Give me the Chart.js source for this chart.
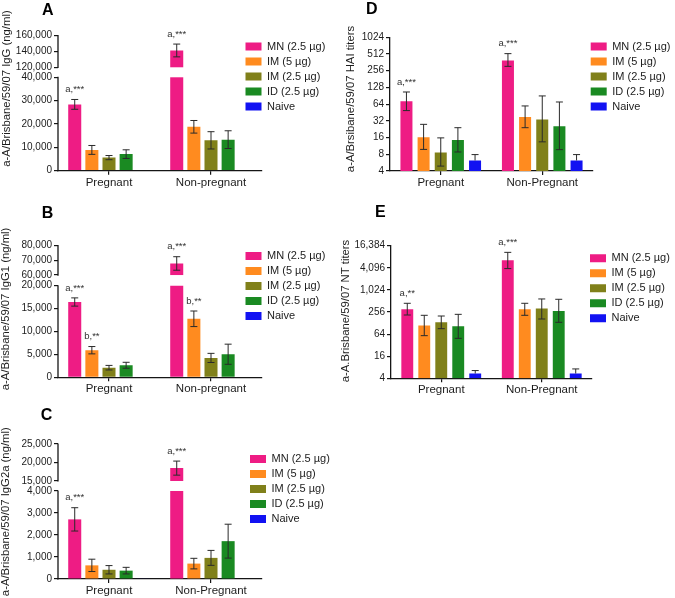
<!DOCTYPE html>
<html>
<head>
<meta charset="utf-8">
<script src="https://cdn.jsdelivr.net/npm/chart.js@4.4.1/dist/chart.umd.min.js"></script>
<style>
html, body { margin: 0; padding: 0; background: #fff; }
#wrap { position: relative; width: 675px; height: 598px; overflow: hidden; background: #fff; }
canvas { position: absolute; }
</style>
</head>
<body>
<div id="wrap">
  <canvas id="cA" width="340" height="195" style="left:0px;top:0px;width:340px;height:195px"></canvas>
  <canvas id="cB" width="340" height="205" style="left:0px;top:195px;width:340px;height:205px"></canvas>
  <canvas id="cC" width="340" height="203" style="left:0px;top:395px;width:340px;height:203px"></canvas>
  <canvas id="cD" width="335" height="195" style="left:340px;top:0px;width:335px;height:195px"></canvas>
  <canvas id="cE" width="335" height="205" style="left:340px;top:195px;width:335px;height:205px"></canvas>
</div>
<script>
// ---------------- DATA ----------------
const SERIES = ['MN (2.5 µg)', 'IM (5 µg)', 'IM (2.5 µg)', 'ID (2.5 µg)', 'Naive'];

// Panel A: IgG (ng/ml), mean ± error
const A_CATEGORIES = ['Pregnant', 'Non-pregnant'];
const A_PREGNANT = [28400, 8900, 5600, 7100, 0];
const A_NONPREGNANT = [141300, 18800, 13000, 13300, 300];
const A_PREGNANT_ERR = [2100, 1900, 900, 1850, 0];
const A_NONPREGNANT_ERR = [8100, 2700, 3700, 3800, 0];
const A_PREGNANT_NOTES = ['a,***', '', '', '', ''];
const A_NONPREGNANT_NOTES = ['a,***', '', '', '', ''];
const A_TICKS = [0, 10000, 20000, 30000, 40000, 120000, 140000, 160000];
const A_TICK_LABELS = ['0', '10,000', '20,000', '30,000', '40,000', '120,000', '140,000', '160,000'];
const A_BREAK = [40000, 120000];

// Panel B: IgG1 (ng/ml)
const B_CATEGORIES = ['Pregnant', 'Non-pregnant'];
const B_PREGNANT = [16450, 5920, 2100, 2630, 0];
const B_NONPREGNANT = [67900, 12780, 4230, 5040, 0];
const B_PREGNANT_ERR = [900, 800, 500, 650, 0];
const B_NONPREGNANT_ERR = [4600, 1700, 1000, 2200, 0];
const B_PREGNANT_NOTES = ['a,***', 'b,**', '', '', ''];
const B_NONPREGNANT_NOTES = ['a,***', 'b,**', '', '', ''];
const B_TICKS = [0, 5000, 10000, 15000, 20000, 60000, 70000, 80000];
const B_TICK_LABELS = ['0', '5,000', '10,000', '15,000', '20,000', '60,000', '70,000', '80,000'];
const B_BREAK = [20000, 60000];

// Panel C: IgG2a (ng/ml)
const C_CATEGORIES = ['Pregnant', 'Non-Pregnant'];
const C_PREGNANT = [2710, 620, 420, 380, 30];
const C_NONPREGNANT = [18480, 700, 960, 1720, 0];
const C_PREGNANT_ERR = [530, 280, 190, 150, 0];
const C_NONPREGNANT_ERR = [1900, 240, 340, 770, 0];
const C_PREGNANT_NOTES = ['a,***', '', '', '', ''];
const C_NONPREGNANT_NOTES = ['a,***', '', '', '', ''];
const C_TICKS = [0, 1000, 2000, 3000, 4000, 15000, 20000, 25000];
const C_TICK_LABELS = ['0', '1,000', '2,000', '3,000', '4,000', '15,000', '20,000', '25,000'];
const C_BREAK = [4000, 15000];

// Panel D: HAI titers (log2 axis), bar value with lower / upper whisker ends
const D_CATEGORIES = ['Pregnant', 'Non-Pregnant'];
const D_PREGNANT = [72, 16.2, 8.65, 14.5, 6.2];
const D_PREGNANT_LO = [49, 9.8, 4.9, 8.8, 6.2];
const D_PREGNANT_HI = [106, 27.7, 15.8, 24.1, 7.9];
const D_NONPREGNANT = [393, 37.6, 34, 25.5, 6.2];
const D_NONPREGNANT_LO = [307, 24.1, 13.4, 9.7, 6.2];
const D_NONPREGNANT_HI = [520, 59.4, 90, 70, 7.9];
const D_PREGNANT_NOTES = ['a,***', '', '', '', ''];
const D_NONPREGNANT_NOTES = ['a,***', '', '', '', ''];
const D_TICKS = [4, 8, 16, 32, 64, 128, 256, 512, 1024];
const D_TICK_LABELS = ['4', '8', '16', '32', '64', '128', '256', '512', '1024'];

// Panel E: NT titers (log4 axis)
const E_CATEGORIES = ['Pregnant', 'Non-Pregnant'];
const E_PREGNANT = [302, 109, 134, 104, 5.4];
const E_PREGNANT_LO = [212, 58, 90, 49, 5.4];
const E_PREGNANT_HI = [442, 208, 199, 221, 6.5];
const E_NONPREGNANT = [6560, 302, 317, 272, 5.4];
const E_NONPREGNANT_LO = [3900, 208, 165, 134, 5.4];
const E_NONPREGNANT_HI = [10800, 442, 580, 568, 7.2];
const E_PREGNANT_NOTES = ['a,**', '', '', '', ''];
const E_NONPREGNANT_NOTES = ['a,***', '', '', '', ''];
const E_TICKS = [4, 16, 64, 256, 1024, 4096, 16384];
const E_TICK_LABELS = ['4', '16', '64', '256', '1,024', '4,096', '16,384'];

// ---------------- STYLE ----------------
const COLORS = ['#EE1C84', '#FF8B1F', '#80801A', '#1A8A22', '#1212F2'];
const TXT = '#1c1c1c';
const AXIS = '#151515';
const FONT = "'Liberation Sans', Arial, Helvetica, sans-serif";
Chart.defaults.font.family = FONT;

const plus = (v, e) => v.map((x, i) => x + e[i]);
const minus = (v, e) => v.map((x, i) => x - e[i]);

const PANELS = {
  cA: { letter: 'A', yTitle: 'a-A/Brisbane/59/07 IgG (ng/ml)', type: 'brokenLinear', categories: A_CATEGORIES,
        preg: A_PREGNANT, non: A_NONPREGNANT,
        pregLo: minus(A_PREGNANT, A_PREGNANT_ERR), pregHi: plus(A_PREGNANT, A_PREGNANT_ERR),
        nonLo: minus(A_NONPREGNANT, A_NONPREGNANT_ERR), nonHi: plus(A_NONPREGNANT, A_NONPREGNANT_ERR),
        pregNotes: A_PREGNANT_NOTES, nonNotes: A_NONPREGNANT_NOTES,
        ticks: A_TICKS, tickLabels: A_TICK_LABELS, brk: A_BREAK },
  cB: { letter: 'B', yTitle: 'a-A/Brisbane/59/07 IgG1 (ng/ml)', type: 'brokenLinear', categories: B_CATEGORIES,
        preg: B_PREGNANT, non: B_NONPREGNANT,
        pregLo: minus(B_PREGNANT, B_PREGNANT_ERR), pregHi: plus(B_PREGNANT, B_PREGNANT_ERR),
        nonLo: minus(B_NONPREGNANT, B_NONPREGNANT_ERR), nonHi: plus(B_NONPREGNANT, B_NONPREGNANT_ERR),
        pregNotes: B_PREGNANT_NOTES, nonNotes: B_NONPREGNANT_NOTES,
        ticks: B_TICKS, tickLabels: B_TICK_LABELS, brk: B_BREAK },
  cC: { letter: 'C', yTitle: 'a-A/Brisbane/59/07 IgG2a (ng/ml)', type: 'brokenLinear', categories: C_CATEGORIES,
        preg: C_PREGNANT, non: C_NONPREGNANT,
        pregLo: minus(C_PREGNANT, C_PREGNANT_ERR), pregHi: plus(C_PREGNANT, C_PREGNANT_ERR),
        nonLo: minus(C_NONPREGNANT, C_NONPREGNANT_ERR), nonHi: plus(C_NONPREGNANT, C_NONPREGNANT_ERR),
        pregNotes: C_PREGNANT_NOTES, nonNotes: C_NONPREGNANT_NOTES,
        ticks: C_TICKS, tickLabels: C_TICK_LABELS, brk: C_BREAK },
  cD: { letter: 'D', yTitle: 'a-A/Brsibane/59/07 HAI titers', type: 'logarithmic', categories: D_CATEGORIES,
        preg: D_PREGNANT, non: D_NONPREGNANT,
        pregLo: D_PREGNANT_LO, pregHi: D_PREGNANT_HI, nonLo: D_NONPREGNANT_LO, nonHi: D_NONPREGNANT_HI,
        pregNotes: D_PREGNANT_NOTES, nonNotes: D_NONPREGNANT_NOTES,
        ticks: D_TICKS, tickLabels: D_TICK_LABELS },
  cE: { letter: 'E', yTitle: 'a-A.Brisbane/59/07 NT titers', type: 'logarithmic', categories: E_CATEGORIES,
        preg: E_PREGNANT, non: E_NONPREGNANT,
        pregLo: E_PREGNANT_LO, pregHi: E_PREGNANT_HI, nonLo: E_NONPREGNANT_LO, nonHi: E_NONPREGNANT_HI,
        pregNotes: E_PREGNANT_NOTES, nonNotes: E_NONPREGNANT_NOTES,
        ticks: E_TICKS, tickLabels: E_TICK_LABELS }
};

// layout (positions / sizes), local canvas pixels
const LAYOUT = {
  cA: { padTop: 16.5, padRight: 77, yW: 58, xH: 24.3, legX: 241.5, legY: 37, letX: 42, letY: 1.2, ytX: 6.5, ytY: 88.5, upFrac: 0.234, gap: 10, catPct: 0.84, barPct: 0.76 },
  cB: { padTop: 31.5, padRight: 77, yW: 58, xH: 22.7, legX: 241.5, legY: 51.5, letX: 41.7, letY: 9.4, ytX: 6, ytY: 114, upFrac: 0.223, gap: 10.7, catPct: 0.84, barPct: 0.76 },
  cC: { padTop: 29.8, padRight: 77, yW: 58, xH: 19, legX: 246, legY: 54.5, letX: 40.7, letY: 11.4, ytX: 6, ytY: 116.7, upFrac: 0.274, gap: 10, catPct: 0.84, barPct: 0.76 },
  cD: { padTop: 18.1, padRight: 81, yW: 50, xH: 24, legX: 246.7, legY: 37, letX: 26, letY: 0, ytX: 11, ytY: 99, catPct: 0.845, barPct: 0.7 },
  cE: { padTop: 31.5, padRight: 82, yW: 51, xH: 21.7, legX: 246, legY: 53.8, letX: 35, letY: 7.9, ytX: 6, ytY: 116, catPct: 0.845, barPct: 0.7 }
};

// ---------------- Broken linear scale ----------------
class BrokenLinearScale extends Chart.LinearScale {
  _brk() {
    const id = this.chart.canvas.id, p = PANELS[id], L = LAYOUT[id];
    return { lo: p.brk[0], u0: p.brk[1], u1: p.ticks[p.ticks.length - 1], up: L.upFrac, gap: L.gap };
  }
  determineDataLimits() { const b = this._brk(); this.min = 0; this.max = b.u1; }
  buildTicks() { return PANELS[this.chart.canvas.id].ticks.map(v => ({ value: v })); }
  getPixelForValue(v) {
    const b = this._brk();
    const H = this.bottom - this.top, upH = H * b.up, loH = H - upH - b.gap;
    if (v === null || v === undefined || isNaN(v)) return NaN;
    if (v <= b.lo) return this.bottom - (v / b.lo) * loH;
    if (v >= b.u0) return this.top + (b.u1 - v) / (b.u1 - b.u0) * upH;
    return this.bottom - loH - (v - b.lo) / (b.u0 - b.lo) * b.gap;
  }
  getValueForPixel(px) {
    const b = this._brk();
    const H = this.bottom - this.top, upH = H * b.up, loH = H - upH - b.gap;
    const gTop = this.top + upH, gBot = this.bottom - loH;
    if (px >= gBot) return (this.bottom - px) / loH * b.lo;
    if (px <= gTop) return b.u1 - (px - this.top) / upH * (b.u1 - b.u0);
    return b.lo + (gBot - px) / b.gap * (b.u0 - b.lo);
  }
}
BrokenLinearScale.id = 'brokenLinear';
BrokenLinearScale.defaults = {};
Chart.register(BrokenLinearScale);

// ---------------- decoration plugin ----------------
function line(ctx, x1, y1, x2, y2) { ctx.beginPath(); ctx.moveTo(x1, y1); ctx.lineTo(x2, y2); ctx.stroke(); }

const decor = {
  id: 'decor',
  afterLayout(chart) {
    const L = LAYOUT[chart.canvas.id];
    const lg = chart.legend;
    if (lg) { lg.left = L.legX; lg.right = L.legX + 120; lg.top = L.legY; lg.bottom = L.legY + 140; lg.width = 120; lg.height = 140; }
    const t = chart.titleBlock;
    if (t) { t.left = L.letX; t.right = L.letX + 40; t.top = L.letY; t.bottom = L.letY + 20; t.width = 40; t.height = 20; }
  },
  afterDatasetsDraw(chart) {
    const id = chart.canvas.id, p = PANELS[id];
    const ctx = chart.ctx, ca = chart.chartArea, y = chart.scales.y;
    ctx.save();
    if (p.brk) {
      const u1 = p.ticks[p.ticks.length - 1];
      const g1 = y.getPixelForValue(p.brk[1]), g2 = y.getPixelForValue(p.brk[0]);
      // cut the gap out of every bar that crosses the axis break
      ctx.fillStyle = '#ffffff';
      chart.data.datasets.forEach((ds, di) => {
        chart.getDatasetMeta(di).data.forEach((bar, j) => {
          if (ds.data[j] > p.brk[0]) ctx.fillRect(bar.x - bar.width / 2 - 1, g1, bar.width + 2, g2 - g1);
        });
      });
      ctx.strokeStyle = AXIS; ctx.lineWidth = 1.3;
      line(ctx, ca.left, y.getPixelForValue(u1) - 0.6, ca.left, g1 + 0.6);
      line(ctx, ca.left, g2 - 0.6, ca.left, ca.bottom + 0.6);
    }
    // error bars and significance notes
    ctx.strokeStyle = '#2a2a2a'; ctx.lineWidth = 1;
    chart.data.datasets.forEach((ds, di) => {
      const meta = chart.getDatasetMeta(di);
      meta.data.forEach((bar, j) => {
        const lo = ds.lo[j], hi = ds.hi[j], v = ds.data[j];
        const x = bar.x;
        let topPx = y.getPixelForValue(v);
        if (hi > v) {
          const yh = y.getPixelForValue(hi);
          const yl = y.getPixelForValue(Math.max(lo, y.min));
          line(ctx, x, yh, x, yl);
          line(ctx, x - 3.5, yh, x + 3.5, yh);
          if (lo < v && lo >= y.min) line(ctx, x - 3.5, yl, x + 3.5, yl);
          topPx = yh;
        }
        const note = ds.notes[j];
        if (note) {
          ctx.fillStyle = '#333';
          ctx.font = '9.5px ' + FONT;
          ctx.textAlign = 'center'; ctx.textBaseline = 'middle';
          ctx.fillText(note, x, topPx - 10);
        }
      });
    });
    ctx.restore();
  },
  afterDraw(chart) {
    const id = chart.canvas.id, L = LAYOUT[id];
    const ctx = chart.ctx;
    const text = chart.options.scales.y.title.text;
    ctx.save();
    ctx.translate(L.ytX, L.ytY);
    ctx.rotate(-Math.PI / 2);
    ctx.fillStyle = TXT;
    ctx.font = '11.3px ' + FONT;
    ctx.textAlign = 'center'; ctx.textBaseline = 'middle';
    ctx.fillText(text, 0, 0);
    ctx.restore();
  }
};

// ---------------- build charts ----------------
function build(id) {
  const p = PANELS[id], L = LAYOUT[id];
  const datasets = SERIES.map((name, i) => ({
    label: name,
    data: [p.preg[i], p.non[i]],
    lo: [p.pregLo[i], p.nonLo[i]],
    hi: [p.pregHi[i], p.nonHi[i]],
    notes: [p.pregNotes[i], p.nonNotes[i]],
    backgroundColor: COLORS[i],
    borderWidth: 0,
    categoryPercentage: L.catPct,
    barPercentage: L.barPct
  }));
  const yScale = {
    type: p.type,
    afterFit: s => { s.width = L.yW; },
    grid: { display: true, drawOnChartArea: false, drawTicks: true, tickLength: 4, color: AXIS, lineWidth: 1.2 },
    border: { display: p.type === 'logarithmic', color: AXIS, width: 1.3 },
    ticks: { autoSkip: false, padding: 2, color: TXT, font: { size: 10 }, callback: (v, i) => p.tickLabels[i] },
    title: { display: false, text: p.yTitle }
  };
  if (p.type === 'logarithmic') {
    yScale.min = p.ticks[0];
    yScale.max = p.ticks[p.ticks.length - 1];
    yScale.afterBuildTicks = s => { s.ticks = p.ticks.map(v => ({ value: v })); };
  }
  return new Chart(document.getElementById(id), {
    type: 'bar',
    data: { labels: p.categories, datasets },
    plugins: [decor],
    options: {
      responsive: false,
      animation: false,
      devicePixelRatio: 1,
      events: [],
      layout: { padding: { left: 0, top: L.padTop, right: L.padRight, bottom: 0 } },
      plugins: {
        tooltip: { enabled: false },
        title: { display: true, text: p.letter, align: 'start', padding: 0, color: '#000', font: { size: 16, weight: 'bold' } },
        legend: {
          display: true, position: 'right', align: 'start', maxWidth: 1,
          labels: { boxWidth: 16, boxHeight: 8, padding: 4, color: TXT, font: { size: 11 } }
        }
      },
      scales: {
        x: {
          type: 'category', offset: true,
          afterFit: s => { s.height = L.xH; },
          grid: { display: true, drawOnChartArea: false, drawTicks: true, tickLength: 4, offset: false, color: AXIS, lineWidth: 1.2 },
          border: { display: true, color: AXIS, width: 1.3 },
          ticks: { padding: 1, color: TXT, font: { size: 11.5 }, maxRotation: 0, autoSkip: false }
        },
        y: yScale
      }
    }
  });
}
['cA', 'cB', 'cC', 'cD', 'cE'].forEach(build);
</script>
</body>
</html>
